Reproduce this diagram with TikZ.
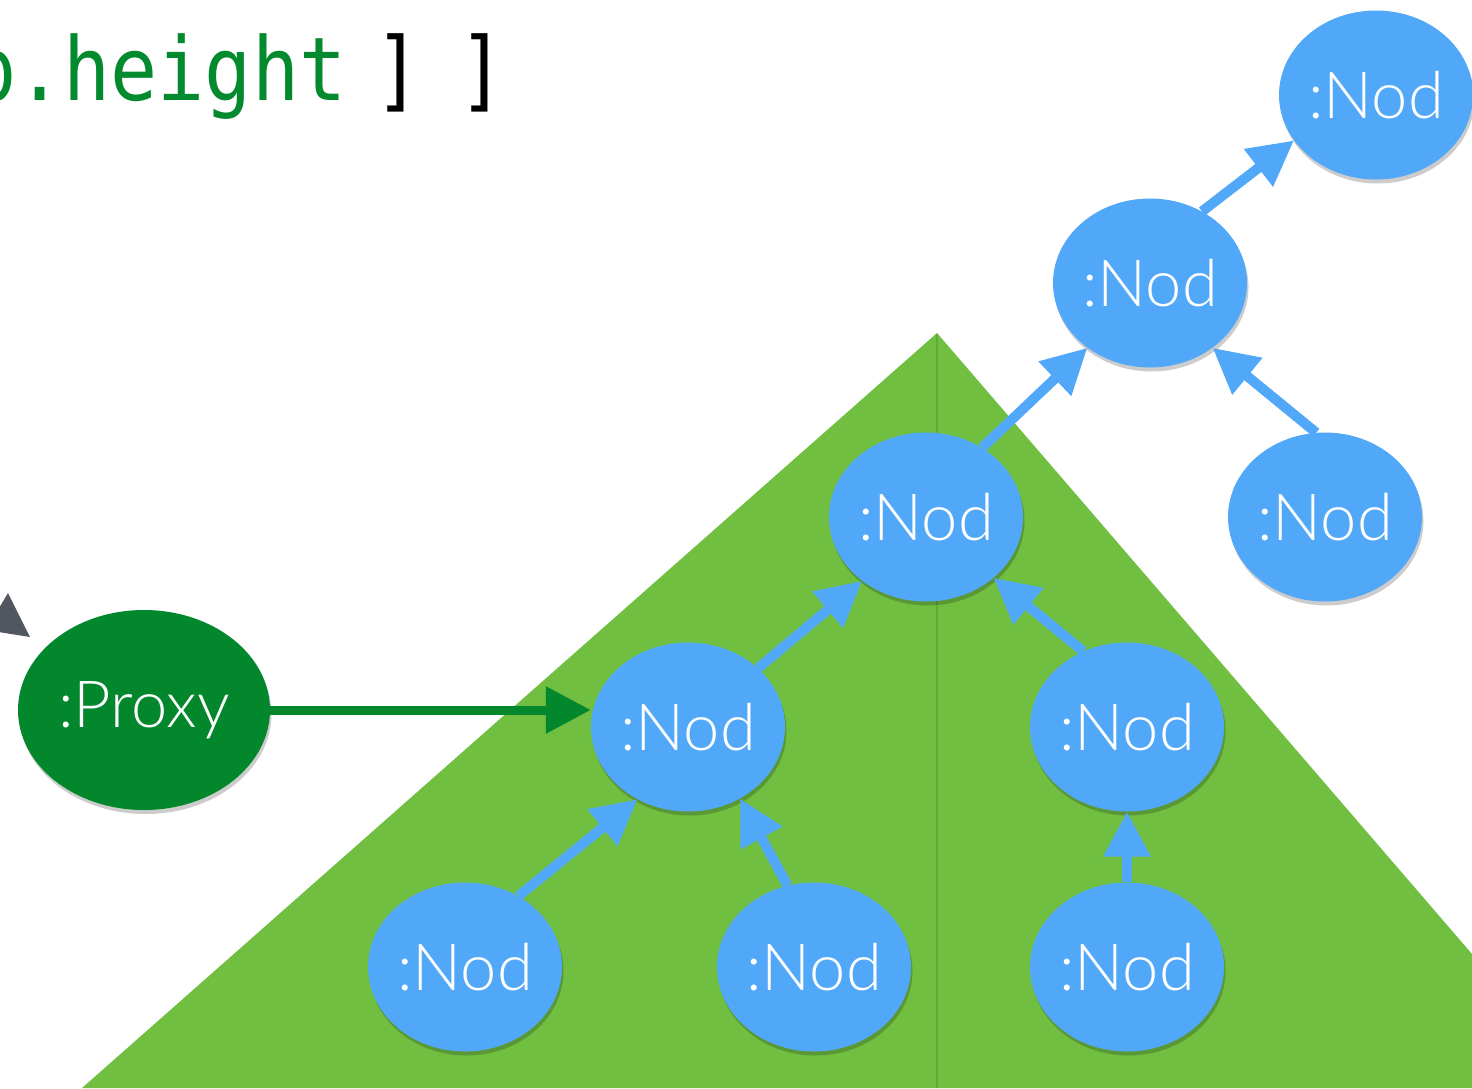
\documentclass[tikz,border=0pt]{standalone}
\usepackage{fontspec}
\usetikzlibrary{arrows.meta,shapes.geometric,shadows}
\newfontfamily\nodfont{Lato Light}
\newfontfamily\codefont[FakeStretch=0.89]{DejaVu Sans Mono}
\definecolor{nodeblue}{RGB}{82,168,248}
\definecolor{trigreen}{RGB}{112,191,65}
\definecolor{trigreenline}{RGB}{96,170,54}
\definecolor{proxygreen}{RGB}{3,135,45}
\definecolor{codegreen}{RGB}{3,138,46}
\definecolor{tipgray}{RGB}{81,86,95}
\tikzset{
  nod/.style={ellipse, fill=nodeblue, inner sep=0pt, minimum width=194pt, minimum height=169pt,
    text=white, font=\nodfont\fontsize{65}{70}\selectfont,
    drop shadow={shadow xshift=1.5pt, shadow yshift=-4pt, opacity=0.2, fill=black}},
  proxynode/.style={ellipse, fill=proxygreen, inner sep=0pt, minimum width=252pt, minimum height=200pt,
    text=white, font=\nodfont\fontsize{65}{70}\selectfont,
    drop shadow={shadow xshift=1.5pt, shadow yshift=-4pt, opacity=0.2, fill=black}},
  blu/.style={draw=nodeblue, line width=10pt, -{Triangle[length=45pt,width=45pt]}},
  grn/.style={draw=proxygreen, line width=9pt, -{Triangle[length=45pt,width=45pt]}},
  codetxt/.style={inner sep=0pt, font=\codefont\fontsize{88}{96}\selectfont}
}
\begin{document}
\begin{tikzpicture}[x=1pt,y=-1pt]
\useasboundingbox (0,0) rectangle (1472,1088);
\clip (0,0) rectangle (1472,1088);
% green triangle
\fill[trigreen] (937,333) -- (1472,954) -- (1472,1088) -- (82,1088) -- cycle;
\draw[trigreenline, line width=2pt] (937,334) -- (937,1088);
% code text
\node[codetxt, text=codegreen, anchor=base east] (code) at (346.6,100) {p.height};
\node[codetxt, text=black, anchor=base] (br1) at (398,100) {]};
\node[codetxt, text=black, anchor=base] (br2) at (482,100) {]};
% gray arrowhead
\fill[tipgray] (8,593) -- (30,637) -- (-14,630) -- cycle;
% nodes
\node[nod] (n1) at (1376,95) {:Nod};
\node[nod] (n2) at (1150,283) {:Nod};
\node[nod] (n3) at (1325,517) {:Nod};
\node[nod] (n4) at (926,517) {:Nod};
\node[nod] (n5) at (688,727) {:Nod};
\node[nod] (n6) at (1127,727) {:Nod};
\node[nod] (n7) at (465,967) {:Nod};
\node[nod] (n8) at (814,967) {:Nod};
\node[nod] (n9) at (1127,967) {:Nod};
\node[proxynode] (proxy) at (144,710) {:Proxy};
% connectors
\draw[blu] (n2.54.5) -- (n1.-151.7);
\draw[blu] (n4.51.3) -- (n2.-134);
\draw[blu] (n3.96.8) -- (n2.-46.8);
\draw[blu] (n5.40.6) -- (n4.-135);
\draw[blu] (n6.120.3) -- (n4.-42.3);
\draw[blu] (n7.53.4) -- (n5.-125.7);
\draw[blu] (n8.108) -- (n5.-54.8);
\draw[blu] (n9.north) -- (n6.south);
\draw[grn] (proxy.east) -- (proxy.east -| n5.west);
\end{tikzpicture}
\end{document}
